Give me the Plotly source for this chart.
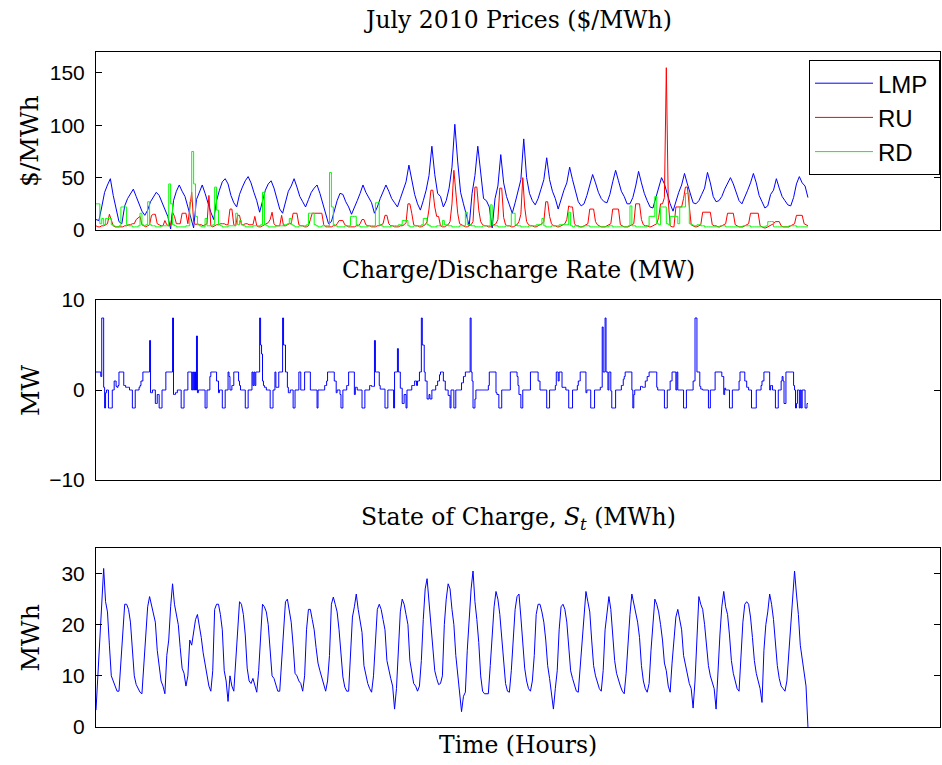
import plotly.graph_objects as go

# ---------------- data ----------------
# LMP, 3-hourly samples per day (h0,h3,...,h21), $/MWh
lmp_days = [
    [10, 9, 22, 36, 43, 49, 33, 19],
    [8, 6, 23, 30, 35, 39, 32, 24],
    [18, 14, 19, 27, 32, 36, 33, 26],
    [20, 13, 1, 28, 37, 43, 37, 32],
    [22, 11, 2, 29, 37, 43, 35, 25],
    [17, 10, 28, 38, 46, 49, 44, 33],
    [26, 22, 34, 41, 47, 51, 45, 36],
    [28, 17, 29, 38, 44, 47, 40, 30],
    [20, 16, 28, 37, 42, 49, 41, 32],
    [27, 22, 29, 36, 40, 43, 35, 25],
    [15, 6, 8, 18, 28, 35, 34, 27],
    [22, 15, 21, 28, 35, 43, 36, 31],
    [26, 16, 22, 30, 37, 43, 37, 30],
    [26, 22, 30, 38, 46, 62, 48, 34],
    [25, 19, 28, 38, 52, 80, 53, 35],
    [32, 22, 28, 40, 60, 101, 65, 36],
    [25, 15, 4, 35, 52, 80, 52, 30],
    [28, 22, 2, 30, 42, 72, 45, 32],
    [24, 16, 26, 36, 48, 87, 50, 35],
    [28, 24, 30, 39, 48, 69, 48, 37],
    [30, 20, 30, 38, 45, 60, 48, 38],
    [27, 23, 25, 33, 42, 53, 45, 36],
    [30, 27, 26, 34, 46, 57, 47, 37],
    [32, 25, 25, 31, 42, 56, 45, 35],
    [28, 22, 21, 30, 40, 50, 44, 34],
    [25, 18, 28, 36, 43, 54, 44, 34],
    [26, 25, 28, 34, 40, 55, 45, 32],
    [27, 28, 32, 39, 44, 50, 44, 35],
    [28, 25, 31, 38, 45, 54, 45, 33],
    [27, 21, 23, 34, 38, 49, 40, 32],
    [28, 24, 23, 31, 44, 51, 45, 42],
]
lmp_end = 31

# Regulation up price, 2-hourly samples per day
ru_days = [
    [4, 3, 3, 4, 4, 5, 6, 15, 10, 4, 3, 3],
    [3, 3, 3, 4, 4, 5, 5, 6, 6, 10, 12, 13],
    [5, 4, 3, 4, 5, 14, 15, 15, 6, 5, 4, 4],
    [9, 5, 4, 5, 17, 13, 6, 6, 6, 16, 16, 16],
    [6, 24, 36, 8, 5, 6, 5, 5, 4, 5, 6, 33],
    [4, 3, 4, 5, 5, 6, 6, 6, 5, 5, 20, 20],
    [5, 4, 14, 14, 5, 5, 6, 6, 5, 5, 5, 13],
    [4, 3, 3, 4, 5, 6, 7, 10, 17, 6, 4, 4],
    [4, 14, 4, 4, 5, 6, 6, 16, 16, 16, 5, 4],
    [4, 3, 3, 4, 10, 16, 16, 16, 16, 16, 16, 5],
    [3, 3, 3, 3, 4, 4, 6, 9, 9, 9, 5, 4],
    [3, 3, 3, 3, 4, 4, 6, 10, 10, 5, 4, 4],
    [3, 3, 3, 4, 4, 5, 6, 14, 14, 6, 4, 4],
    [3, 3, 3, 4, 4, 5, 7, 25, 25, 16, 5, 4],
    [4, 3, 3, 4, 5, 8, 20, 38, 38, 22, 13, 13],
    [4, 3, 3, 4, 5, 8, 25, 57, 38, 16, 6, 5],
    [4, 3, 3, 4, 5, 8, 41, 41, 19, 8, 5, 4],
    [4, 3, 3, 4, 5, 6, 10, 40, 40, 12, 5, 4],
    [4, 3, 3, 4, 5, 8, 15, 50, 22, 8, 5, 4],
    [4, 3, 3, 4, 5, 6, 8, 27, 27, 13, 6, 4],
    [4, 3, 3, 4, 5, 6, 10, 23, 22, 22, 6, 4],
    [4, 3, 3, 4, 5, 6, 20, 20, 20, 8, 5, 4],
    [3, 3, 3, 4, 5, 6, 20, 20, 20, 20, 5, 4],
    [3, 3, 3, 4, 5, 6, 25, 25, 25, 10, 5, 4],
    [4, 3, 3, 4, 5, 6, 12, 25, 25, 31, 155, 28],
    [4, 3, 3, 22, 22, 22, 22, 30, 41, 41, 19, 5],
    [4, 3, 3, 4, 5, 17, 17, 17, 17, 17, 5, 4],
    [4, 3, 3, 4, 5, 6, 16, 16, 16, 16, 5, 4],
    [3, 3, 3, 4, 5, 6, 16, 16, 16, 16, 16, 4],
    [3, 2, 2, 3, 4, 5, 6, 8, 8, 8, 4, 3],
    [3, 3, 3, 4, 5, 6, 14, 14, 14, 14, 6, 5],
]
ru_end = 4

# Regulation down price, 2-hourly samples per day
rd_days = [
    [25, 25, 6, 11, 5, 11, 11, 11, 5, 4, 3, 3],
    [4, 22, 22, 22, 5, 4, 4, 3, 3, 3, 4, 16],
    [5, 4, 5, 27, 5, 4, 4, 3, 3, 3, 4, 4],
    [4, 4, 44, 25, 5, 4, 3, 3, 3, 3, 3, 4],
    [4, 27, 75, 44, 13, 5, 4, 3, 3, 11, 4, 4],
    [4, 5, 41, 19, 5, 4, 3, 3, 3, 4, 4, 4],
    [4, 16, 5, 9, 5, 4, 3, 3, 3, 3, 4, 4],
    [4, 4, 5, 36, 5, 4, 3, 3, 3, 3, 4, 4],
    [4, 4, 5, 5, 6, 11, 5, 4, 3, 3, 4, 4],
    [4, 4, 5, 16, 16, 16, 5, 4, 3, 3, 4, 4],
    [4, 4, 55, 22, 5, 4, 3, 3, 3, 3, 4, 4],
    [4, 13, 13, 13, 5, 4, 3, 3, 3, 3, 4, 4],
    [4, 4, 26, 26, 5, 4, 3, 3, 3, 3, 4, 4],
    [4, 4, 5, 5, 9, 9, 9, 4, 3, 3, 4, 4],
    [4, 4, 5, 11, 11, 5, 4, 3, 3, 3, 4, 4],
    [4, 9, 5, 5, 4, 4, 3, 3, 3, 3, 4, 4],
    [4, 17, 5, 5, 4, 4, 3, 3, 3, 3, 4, 4],
    [4, 4, 24, 5, 4, 4, 3, 3, 3, 3, 4, 4],
    [4, 16, 16, 5, 4, 4, 3, 3, 3, 3, 4, 4],
    [4, 4, 5, 5, 5, 11, 4, 3, 3, 3, 4, 4],
    [4, 4, 5, 5, 5, 5, 5, 17, 4, 3, 4, 4],
    [3, 3, 3, 4, 4, 4, 3, 3, 3, 3, 3, 3],
    [3, 3, 3, 3, 4, 4, 3, 3, 3, 3, 3, 3],
    [3, 3, 4, 23, 4, 4, 3, 3, 3, 3, 3, 3],
    [4, 13, 13, 13, 32, 6, 5, 22, 22, 22, 6, 5],
    [13, 13, 13, 13, 6, 22, 22, 22, 35, 35, 6, 5],
    [4, 4, 5, 5, 4, 4, 3, 3, 3, 3, 3, 3],
    [3, 3, 4, 4, 4, 3, 3, 3, 3, 3, 3, 3],
    [3, 3, 4, 4, 4, 4, 3, 3, 3, 3, 3, 3],
    [3, 3, 4, 8, 8, 8, 3, 3, 3, 3, 3, 3],
    [3, 3, 4, 4, 4, 4, 3, 3, 3, 3, 3, 3],
]
rd_end = 3

# Charge/discharge rate, hourly per day (MW)
rate_days = [
    [2, 2, 2, 2, 2, 1.5, 8, 8, 0.3, -2, -0.3, 0, 0, -2, -2, -2, -2, 0, 0, 1, 1, 0.4, 0.3, 0.5],
    [2, 2, 2, 2, 2, 0.5, 0.5, 0.3, 0.3, 0.3, 0.3, 0, 0, 0, -2, -2, -2, 0, 0, 0, 0, 0.3, 0.5, 1],
    [1, 2, 2, 2, 2, 2, 2, 2, 5.5, -0.3, -0.3, 0, 0, 0, -1.5, -1.5, -0.5, -0.5, -2, -2, -2, 0, 0, 0],
    [0, 2, 2, 2, 2, 2, 2, 2, 8, -0.5, -0.5, -0.3, -0.3, 0, 0, 0, 0, -2, -2, -2, 0, 0, 0, 0],
    [2, 2, 2, 2, 0, 2, 0, 2, 0, 6, -0.3, 0, 0, 0, 0, 0, 0, 0, -2, -2, 0, 0, 0, 1.5],
    [2, 2, 2, 2, 2, 2, 1, 1, -0.3, 0, 0, 0, -2, -2, -2, 0, 0, 0, 2, 1.5, 0, 0, 0.5, 0.5],
    [2, 2, 2, 2, 2, 1, 0.5, 0, 0, 0, 0, 0, -2, -2, -2, 0, 0, 0, 0, 2, 0.5, 2, 0.5, 2],
    [2, 2, 2, 8, 5, 4, 1, 0.5, 0.3, 0.3, 0, 0, 0, 0, -2, -2, -2, 0, 0, 2, 0.3, 0.3, 0.3, 2],
    [2, 2, 2, 8, 5, 5, 2, 2, 0.3, -0.3, -0.3, 0, 0, 0, -2, -2, 0, 0, 0, 0, 2, 2, 0, 0],
    [0, 0, 2, 2, 2, 2, 2, 2, 0, 0, 0, 0, 0, 0, 0, -2, 0, 0, 0, 0, 0, 0, 0, 0.5],
    [0.5, 1, 2, 2, 2, 2, 2, 2, 2, 1, 1, -0.3, 0, 0, 0, -0.5, -2, -2, 0, 0, 0, 0, 0.5, 0.5],
    [2, 2, 2, 2, 2, 2, -0.5, 0.3, 0.3, 0, 0, 0, 0, 0, -2, -2, -2, 0, 0, 0, 0, 0, 0.5, 0.5],
    [0.4, 0.4, 0.4, 5.5, 2, 2, 2, 2, 0.5, 0.1, 0.1, 0.1, 0.1, 0.1, -2, -2, -2, 0, 0, 0, 0, 0, 0, -2],
    [2, 2, 2, 4.6, 2, 2, 0.2, 0.2, -1.5, -1.5, -0.5, -0.5, -2, 0, 0, 0, 0, 0, 0.5, 0.5, 0.5, 1, 1, 0.5],
    [1, 1, 2, 2, 8, 5, 5, 2, 1, 1, -1, -1, -0.5, -1, -1, 0, 0, 0, 0, 0.5, 0.5, 1, 1, 1.7],
    [2, 2, 2, 1, 1, 0, 0, 0, -0.6, -0.6, -2, 0, 0, 0, -2, -2, 0, 0, 0, 0, 0, 0, 0.8, 0.8],
    [1.5, 1.5, 2, 2, 2, 2, 2, 8, 2, 1, -2, -2, -1, 0, 0, 0, 0, 0, 0, 0, 0, 0, 0, 0],
    [0, 0, 0.5, 2, 2, 2, 2, 2, 2, 2, -0.3, -0.5, -0.5, -2, -2, -2, 0, 0, 0, 0, 0, 0, 0, 0],
    [0, 2, 2, 2, 2, 2, 2, 2, 1.5, 0.5, -0.5, -0.5, -2, -2, 0, 0, 0, 0, 0, 0, 0, 0, 2, 2],
    [2, 2, 2, 2, 2, 2, 1, 1, 0, 0, 0, 0, 0, 0, 0, -2, -2, -2, 0, 0, 0, 0, 0, 0],
    [0.5, 2, 2, 1, 2, 2, 2, 0.3, 0.3, 0.3, 0.3, 0, 0, 0, -2, -2, -2, -2, 0, 0, 0, 0, 0, 0.5],
    [1, 1, 2, 2, 2, 2, 2, 2, -0.3, 0, 0, 0, 0, -2, -2, -2, -2, 0, 0, 0, 0, 0, 0, 0.3],
    [0.3, 7, 2, 2, 8, 2, 2, 0, 2, 2, -0.1, -2, -2, -2, -2, 0, 0, 0, 0, 0, 0, 0.5, 0.5, 1.2],
    [1.5, 2, 2, 2, 2, 2, 2, 2, 0, -2, -0.5, 0, 0, 0, 0, 0, 0, 0.4, 0.4, 0.3, 0.3, 0.3, 1, 1],
    [1.5, 1.5, 2, 2, 2, 2, 2, 2, 2, 2, 0.3, 0, 0, 0, 0, 0, 0, 0, -2, -2, -2, 0, 0, 0],
    [1, 1, 2, 2, 2, 2, 0, 2, 0, 0, 0, 0, 0, 0, -2, -2, -2, 0, 0, 0, 0, 0, 0, 0],
    [1, 1, 8, 8, 2, 2, 2, 0.4, 0.1, 0.1, 0, 0, 0, 0, 0, 0, -2, -2, 0, 0, 0, 0, 0, 2],
    [2, 2, 2, 2, 2, 2, 1.5, 1.5, -0.5, 0.2, 0, 0, 0, 0, -2, -2, -2, 0, 0, 0, 0, 0, 0, 0],
    [1, 2, 2, 2, 2, 2, 1, 1, 0.3, 0.3, 0, 0, 0, -2, -2, -2, -2, -2, 0, 0, 0, 0, 0, 0.5],
    [1, 1, 2, 2, 2, 2, 2, 2, 0, 0.5, 0.5, 0, 0, 0, -2, -2, -2, 0, 0, 0, 1, 1.5, 1, -1.5],
    [-1.5, 2, 2, 2, 2, 2, 2, 2, 2, 0.5, 0, -2, -1.5, 0, 0, -2, 0, -2, 0, 0, 0, -2, -2, -1.5],
]
rate_end = -1.5

# State of charge, 2-hourly per day (MWh)
soc_days = [
    [3.3, 10, 16, 24, 31, 24.5, 22.5, 16, 10, 9, 8, 7],
    [7, 12.5, 19, 24, 24, 23, 20.5, 15, 10, 8.3, 7.5, 6.8],
    [6.5, 12, 19, 23.5, 25.5, 24, 22.5, 20.5, 15, 11.5, 9, 8],
    [6.5, 14, 17, 23.5, 28, 24, 22, 20, 15.5, 11.5, 10.5, 8],
    [10, 17, 16, 19, 21, 22, 20, 17.5, 14.5, 12.5, 10, 8],
    [7, 11, 23, 24, 24, 22, 19, 11, 9, 5, 10, 8],
    [7, 13, 20, 24.5, 24, 22, 18, 11.5, 9, 8.5, 9.5, 8],
    [6.8, 11, 19, 24, 23.5, 22.5, 20, 15, 10, 9.5, 8, 7],
    [7, 13, 20, 24.5, 25, 22.5, 20.5, 16, 10.5, 10, 9, 8.5],
    [7, 10, 19, 23, 23, 21, 19, 15.5, 12.5, 11, 9.5, 8],
    [7, 9, 14, 24, 25.4, 24, 22.5, 19, 14, 9.8, 7.8, 7],
    [7, 15, 21.5, 23.5, 26, 23, 21, 18.5, 12, 10, 8.5, 7.5],
    [6.8, 10, 16, 23, 24, 23, 21, 19, 13, 11, 9.5, 8],
    [3.5, 7.5, 15, 22.5, 25, 24, 22, 20, 13, 10.5, 8.5, 8],
    [7, 8, 13, 21, 27, 29, 24, 20.5, 16, 11, 9.5, 8.3],
    [8.5, 10, 20, 25, 28, 27, 23, 20, 14, 10, 7.5, 3],
    [6, 6.8, 15, 22, 27, 30.5, 24.5, 21, 16.5, 10, 7, 6.5],
    [6.5, 6.5, 12, 18, 23.5, 26.5, 25, 22, 17, 12, 8.5, 7],
    [6.8, 11, 17, 23, 25.5, 26, 21.5, 16, 11.5, 9, 7.5, 7],
    [9, 14, 22, 24, 24, 22.5, 20.5, 17, 12, 9.5, 7, 3.5],
    [7.5, 11, 19, 23.5, 24, 23, 20.5, 15, 11, 9.5, 8, 7],
    [6.8, 12, 16.5, 21.5, 26.5, 24.5, 22.5, 17, 12, 10, 8.5, 7.5],
    [7, 11, 19, 22.5, 25.5, 23, 18, 13, 10.5, 9, 8, 7],
    [6.5, 10.5, 16.5, 22, 26, 24, 22, 20.5, 17.5, 12, 9, 7.5],
    [6.8, 8.5, 15, 20.5, 25, 24, 22.5, 20, 17, 12.5, 11, 8],
    [6.8, 12.5, 17.5, 21.5, 23, 21, 19, 14, 12, 10.5, 8.5, 7.5],
    [3.7, 9, 19, 25.5, 24, 23, 20, 16.5, 12, 10, 8.5, 7.5],
    [3.5, 12, 18, 23.5, 26.5, 23.5, 22, 18, 13, 10.5, 9, 7.5],
    [7, 13, 20.5, 24, 24.5, 24, 21.5, 17.5, 13, 10.5, 9, 7.5],
    [4.8, 15, 20, 22.5, 26, 24, 21, 16.5, 12, 9.5, 8, 7.5],
    [7, 9, 14.5, 21, 26, 30.5, 26, 22, 16, 13, 11, 8],
]
soc_end = 0

HOURS_PER_DAY = 24
N_DAYS = len(lmp_days)


def series(days, end_value):
    """Place each day's samples on the hour axis (samples evenly spaced within the day)."""
    xs, ys = [], []
    for d, vals in enumerate(days):
        step = HOURS_PER_DAY / len(vals)
        for i, v in enumerate(vals):
            xs.append(d * HOURS_PER_DAY + i * step)
            ys.append(v)
    xs.append(N_DAYS * HOURS_PER_DAY)
    ys.append(end_value)
    return xs, ys


lmp_x, lmp_y = series(lmp_days, lmp_end)
ru_x, ru_y = series(ru_days, ru_end)
rd_x, rd_y = series(rd_days, rd_end)
rate_x, rate_y = series(rate_days, rate_end)
soc_x, soc_y = series(soc_days, soc_end)

BLUE = "#0000ff"
RED = "#ff0000"
GREEN = "#00ff00"

fig = go.Figure()
fig.add_trace(go.Scatter(x=lmp_x, y=lmp_y, mode="lines", name="LMP ",
                         line=dict(color=BLUE, width=1), xaxis="x", yaxis="y"))
fig.add_trace(go.Scatter(x=ru_x, y=ru_y, mode="lines", name="RU",
                         line=dict(color=RED, width=1), xaxis="x", yaxis="y"))
fig.add_trace(go.Scatter(x=rd_x, y=rd_y, mode="lines", name="RD",
                         line=dict(color=GREEN, width=1, shape="hv"), xaxis="x", yaxis="y"))
fig.add_trace(go.Scatter(x=rate_x, y=rate_y, mode="lines", showlegend=False,
                         line=dict(color=BLUE, width=1, shape="hv"), xaxis="x2", yaxis="y2"))
fig.add_trace(go.Scatter(x=soc_x, y=soc_y, mode="lines", showlegend=False,
                         line=dict(color=BLUE, width=1), xaxis="x3", yaxis="y3"))

SANS = "Liberation Sans, Arial, Helvetica, sans-serif"
SERIF = "DejaVu Serif, Liberation Serif, serif"
TICKFONT = dict(family=SANS, size=21, color="black")

xcommon = dict(range=[0, 882], showticklabels=False, ticks="", showline=True,
               linecolor="black", linewidth=1, mirror=True, showgrid=False, zeroline=False)
ycommon = dict(ticks="inside", ticklen=6, tickcolor="black", showline=True, linecolor="black",
               linewidth=1, mirror="ticks", showgrid=False, zeroline=False, tickfont=TICKFONT,
               ticklabelstandoff=6)

fig.update_layout(
    width=942, height=765,
    margin=dict(l=96, r=2, t=52, b=38),
    paper_bgcolor="white", plot_bgcolor="white",
    showlegend=True,
    legend=dict(x=1, y=0.988, xanchor="right", yanchor="top", bgcolor="white",
                bordercolor="black", borderwidth=1, font=dict(family=SANS, size=24, color="black"),
                itemwidth=58, tracegroupgap=0),
    xaxis=dict(domain=[0, 1], anchor="y", **xcommon),
    xaxis2=dict(domain=[0, 1], anchor="y2", **xcommon),
    xaxis3=dict(domain=[0, 1], anchor="y3", **xcommon),
    yaxis=dict(domain=[0.7363, 1], anchor="x", range=[0, 170], tickvals=[0, 50, 100, 150], **ycommon),
    yaxis2=dict(domain=[0.3659, 0.6326], anchor="x2", range=[-10, 10], tickvals=[-10, 0, 10],
                ticktext=["\u221210", "0", "10"], **ycommon),
    yaxis3=dict(domain=[0, 0.2652], anchor="x3", range=[0, 35], tickvals=[0, 10, 20, 30], **ycommon),
)

tfont = dict(family=SERIF, size=23.5, color="black")
ann = [
    dict(text="July 2010 Prices ($/MWh)", x=0.5, y=1.047, xref="paper", yref="paper"),
    dict(text="Charge/Discharge Rate (MW)", x=0.5, y=0.677, xref="paper", yref="paper"),
    dict(text="State of Charge, <i>S<sub>t</sub></i> (MWh)", x=0.5, y=0.3096, xref="paper", yref="paper"),
    dict(text="Time (Hours)", x=0.5, y=-0.0267, xref="paper", yref="paper"),
]
for a in ann:
    fig.add_annotation(showarrow=False, font=tfont, xanchor="center", yanchor="middle", **a)

lfont = dict(family=SERIF, size=25, color="black")
ylab = [("$/MWh", "y domain"), ("MW", "y2 domain"), ("MWh", "y3 domain")]
for txt, yr in ylab:
    fig.add_annotation(text=txt, x=-0.0782, y=0.5, xref="paper", yref=yr, showarrow=False,
                       textangle=-90, font=lfont, xanchor="center", yanchor="middle")

fig.write_html(
    "out.html",
    config={"displayModeBar": False},
    post_script="document.body.style.margin='0';document.body.style.overflow='hidden';",
)
